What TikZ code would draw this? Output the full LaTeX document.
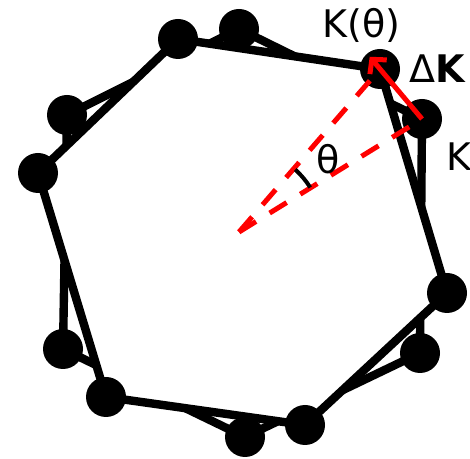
\documentclass[tikz,border=0pt]{standalone}
\usepackage{fontspec}
\setmainfont{DejaVu Sans}
\usetikzlibrary{arrows.meta}

\begin{document}
\begin{tikzpicture}[
    x=0.5pt, y=0.5pt,
    edge/.style={line width=4.2pt},
    radius line/.style={red, line width=2.5pt, dash pattern=on 10pt off 8pt},
    shift arrow/.style={red, line width=2.5pt, -{Straight Barb[length=5pt, width=11pt]}},
    vlabel/.style={font=\fontsize{19}{23}\selectfont, inner sep=0pt},
  ]

  \def\R{10pt}   % dot radius

  \useasboundingbox (0,0) rectangle (470,459);

  \coordinate (O) at (239,227);   %  centre of rotation

  % ---- hexagon before the rotation ---------------------------------------
  \coordinate (b1) at (239,430);
  \coordinate (k)  at (422,340);   %  K
  \coordinate (b3) at (420,106);
  \coordinate (b4) at (245,22);
  \coordinate (b5) at (63,110);
  \coordinate (b6) at (67,344);

  % ---- hexagon after the rotation ----------------------------------------
  \coordinate (a1) at (178,420);
  \coordinate (kt) at (380,390);   %  K(theta)
  \coordinate (a3) at (447,166);
  \coordinate (a4) at (305,34);
  \coordinate (a5) at (106,62);
  \coordinate (a6) at (38,286);

  % ---- edges (the new one is filled white and hides the old one inside) --
  \draw[edge] (b1) -- (k) -- (b3) -- (b4) -- (b5) -- (b6) -- cycle;
  \filldraw[edge, fill=white] (a1) -- (kt) -- (a3) -- (a4) -- (a5) -- (a6) -- cycle;

  % ---- vertices ----------------------------------------------------------
  \fill (b1) circle (\R) (k) circle (\R) (b3) circle (\R)
        (b4) circle (\R) (b5) circle (\R) (b6) circle (\R);
  \fill (a1) circle (\R) (kt) circle (\R) (a3) circle (\R)
        (a4) circle (\R) (a5) circle (\R) (a6) circle (\R);

  % ---- the rotation ------------------------------------------------------
  \draw[radius line] (O) -- (kt);
  \draw[radius line] (O) -- (k);
  \draw[shift arrow, shorten >=-8pt] (k) -- (kt);
  \draw[line width=2pt] ([shift={(32:84)}]O) arc[start angle=32, end angle=48, radius=42pt];

  % ---- labels ------------------------------------------------------------
  \node[vlabel, anchor=west] (ktlabel) at (322,434) {K(θ)};
  \node[vlabel] (dklabel) at (438,390) {Δ\textbf{K}};
  \node[vlabel, anchor=west] (klabel)  at (446,302) {K};
  \node[vlabel] (anglelabel) at (328,300) {θ};

\end{tikzpicture}
\end{document}
